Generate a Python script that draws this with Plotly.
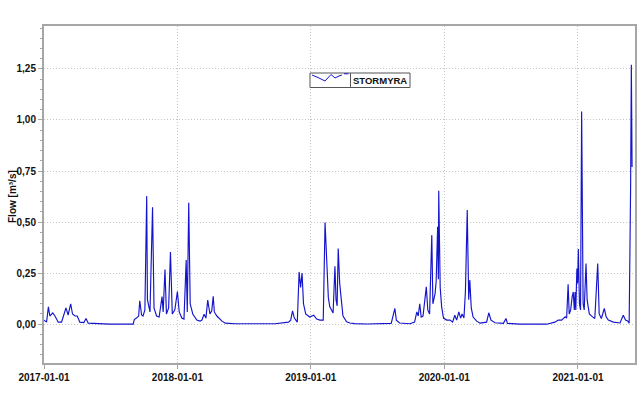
import plotly.graph_objects as go

dates = [
    "2017-01-01", "2017-01-08", "2017-01-13", "2017-01-17", "2017-01-25", "2017-01-31",
    "2017-02-09", "2017-02-18", "2017-02-25", "2017-03-02", "2017-03-08", "2017-03-15",
    "2017-03-20", "2017-03-27", "2017-04-02", "2017-04-09", "2017-04-20", "2017-04-26",
    "2017-05-02", "2017-05-16", "2017-06-30", "2017-09-02", "2017-09-05", "2017-09-11",
    "2017-09-17", "2017-09-20", "2017-09-25", "2017-09-29", "2017-10-04", "2017-10-09",
    "2017-10-11", "2017-10-18", "2017-10-25", "2017-10-29", "2017-11-05", "2017-11-12",
    "2017-11-20", "2017-11-23", "2017-11-28", "2017-12-02", "2017-12-08", "2017-12-13",
    "2017-12-18", "2017-12-25",
    "2018-01-01", "2018-01-06", "2018-01-13", "2018-01-19", "2018-01-25", "2018-01-28",
    "2018-02-01", "2018-02-05", "2018-02-12", "2018-02-23", "2018-03-04", "2018-03-09",
    "2018-03-15", "2018-03-20", "2018-03-25", "2018-03-31", "2018-04-05", "2018-04-09",
    "2018-04-12", "2018-04-19", "2018-04-25", "2018-05-03", "2018-05-12", "2018-06-08",
    "2018-09-25", "2018-11-01", "2018-11-07", "2018-11-12", "2018-11-17", "2018-11-23",
    "2018-11-25", "2018-11-30", "2018-12-04", "2018-12-08", "2018-12-12", "2018-12-18",
    "2018-12-29",
    "2019-01-09", "2019-01-17", "2019-01-26", "2019-02-04", "2019-02-09", "2019-02-13",
    "2019-02-16", "2019-02-18", "2019-02-22", "2019-02-27", "2019-03-03", "2019-03-08",
    "2019-03-11", "2019-03-14", "2019-03-17", "2019-03-21", "2019-03-26", "2019-03-30",
    "2019-04-09", "2019-04-18", "2019-05-01", "2019-06-02", "2019-08-09", "2019-08-19",
    "2019-08-23", "2019-09-01", "2019-09-29", "2019-10-12", "2019-10-18", "2019-10-22",
    "2019-10-26", "2019-10-30", "2019-11-04", "2019-11-13", "2019-11-17", "2019-11-22",
    "2019-11-28", "2019-12-01", "2019-12-07", "2019-12-10", "2019-12-14", "2019-12-16",
    "2019-12-17", "2019-12-21", "2019-12-25", "2019-12-30",
    "2020-01-08", "2020-01-17", "2020-01-24", "2020-01-30", "2020-02-04", "2020-02-10",
    "2020-02-15", "2020-02-19", "2020-02-24", "2020-02-28", "2020-03-04", "2020-03-08",
    "2020-03-11", "2020-03-15", "2020-03-20", "2020-03-30", "2020-04-08", "2020-04-26",
    "2020-05-02", "2020-05-08", "2020-05-19", "2020-06-11", "2020-06-18", "2020-06-22",
    "2020-07-26", "2020-10-07", "2020-10-30", "2020-11-08", "2020-11-17", "2020-11-27",
    "2020-12-01", "2020-12-05", "2020-12-08", "2020-12-12", "2020-12-16", "2020-12-19",
    "2020-12-22", "2020-12-24", "2020-12-26", "2020-12-29", "2020-12-31",
    "2021-01-02", "2021-01-05", "2021-01-08", "2021-01-11", "2021-01-13", "2021-01-15",
    "2021-01-18", "2021-01-23", "2021-01-26", "2021-02-01", "2021-02-10", "2021-02-16",
    "2021-02-24", "2021-02-28", "2021-03-06", "2021-03-14", "2021-03-19", "2021-03-25",
    "2021-04-08", "2021-04-26", "2021-05-05", "2021-05-11", "2021-05-17", "2021-05-21",
    "2021-05-25", "2021-05-27", "2021-05-29",
]

flow = [
    0.020, 0.010, 0.085, 0.040, 0.055, 0.040,
    0.010, 0.010, 0.050, 0.080, 0.045, 0.100,
    0.050, 0.040, 0.040, 0.010, 0.008, 0.028,
    0.005, 0.003, 0.000, 0.000, 0.023, 0.030,
    0.040, 0.115, 0.045, 0.040, 0.070, 0.627,
    0.120, 0.060, 0.572, 0.080, 0.040, 0.035,
    0.135, 0.060, 0.268, 0.050, 0.080, 0.353,
    0.050, 0.070,
    0.160, 0.060, 0.030, 0.025, 0.314, 0.060,
    0.595, 0.100, 0.050, 0.020, 0.015, 0.020,
    0.049, 0.030, 0.118, 0.050, 0.065, 0.137,
    0.060, 0.040, 0.030, 0.015, 0.005, 0.002,
    0.002, 0.010, 0.020, 0.065, 0.030, 0.012,
    0.010, 0.256, 0.180, 0.250, 0.100, 0.050,
    0.035,
    0.044, 0.025, 0.020, 0.020, 0.498, 0.310,
    0.220, 0.130, 0.085, 0.070, 0.055, 0.283,
    0.120, 0.090, 0.371, 0.200, 0.085, 0.040,
    0.012, 0.006, 0.003, 0.001, 0.004, 0.077,
    0.020, 0.006, 0.002, 0.010, 0.060, 0.040,
    0.100, 0.035, 0.040, 0.183, 0.070, 0.050,
    0.436, 0.100, 0.150, 0.210, 0.477, 0.220,
    0.653, 0.180, 0.085, 0.030,
    0.020, 0.020, 0.010, 0.044, 0.020, 0.060,
    0.030, 0.050, 0.030, 0.158, 0.559, 0.120,
    0.216, 0.080, 0.035, 0.015, 0.005, 0.010,
    0.056, 0.020, 0.007, 0.004, 0.028, 0.004,
    0.000, 0.000, 0.010, 0.020, 0.020, 0.036,
    0.030, 0.196, 0.050, 0.070, 0.134, 0.158,
    0.070, 0.158, 0.070, 0.273, 0.200,
    0.368, 0.100, 0.070, 1.041, 0.720, 0.100,
    0.070, 0.297, 0.120, 0.050, 0.036, 0.028,
    0.297, 0.050, 0.028, 0.077, 0.036, 0.020,
    0.010, 0.006, 0.044, 0.020, 0.016, 0.005,
    0.670, 1.270, 0.770,
]

series_name = "STORMYRA"
y_title = "Flow [m³/s]"
x_start, x_end = "2017-01-01", "2021-06-06"
y_min, y_max = -0.19, 1.46

font_family = "Liberation Sans, Arial, sans-serif"
axis_grey = "#a6a6a6"
grid_grey = "#c4c4c4"
line_blue = "#1414cc"

W, H = 639, 396
ML, MR, MT, MB = 44, 4, 26, 33
PW, PH = W - ML - MR, H - MT - MB


def px(xp):
    return (xp - ML) / PW


def py(yp):
    return (H - MB - yp) / PH


fig = go.Figure()
fig.add_trace(go.Scatter(
    x=dates, y=flow, mode="lines", name=series_name,
    line=dict(color=line_blue, width=1.15), showlegend=False,
))

# Legend box drawn by hand: icon cell with a wavy line, then the name cell
leg_x0, leg_xd, leg_x1 = px(310), px(350.5), px(410)
leg_y0, leg_y1 = py(87.5), py(73)
shapes = [
    dict(type="rect", xref="paper", yref="paper", x0=leg_x0, x1=leg_x1, y0=leg_y0, y1=leg_y1,
         line=dict(color="#555555", width=1), fillcolor="white", layer="above"),
    dict(type="line", xref="paper", yref="paper", x0=leg_xd, x1=leg_xd, y0=leg_y0, y1=leg_y1,
         line=dict(color="#555555", width=1), layer="above"),
]
wave = [(312, 75), (318, 77.5), (325, 81), (331, 74.5), (335, 78), (339, 76), (342, 75)]
path = "M " + " L ".join(f"{px(a):.5f},{py(b):.5f}" for a, b in wave)
shapes.append(dict(type="path", xref="paper", yref="paper", path=path,
                   line=dict(color=line_blue, width=1), layer="above"))
shapes.append(dict(type="line", xref="paper", yref="paper", x0=px(344), x1=px(348.5),
                   y0=py(73.8), y1=py(73.8), line=dict(color=line_blue, width=1), layer="above"))

annotations = [
    dict(xref="paper", yref="paper", x=(leg_xd + leg_x1) / 2, y=(leg_y0 + leg_y1) / 2,
         text=series_name, showarrow=False, xanchor="center", yanchor="middle",
         font=dict(family=font_family, size=9.5, color="#111111", weight="bold")),
    dict(xref="paper", yref="paper", x=px(12), y=py(197), text=y_title, textangle=-90,
         showarrow=False, xanchor="center", yanchor="middle",
         font=dict(family=font_family, size=10, color="#111111", weight="bold")),
]

fig.update_layout(
    width=W, height=H,
    margin=dict(l=ML, r=MR, t=MT, b=MB),
    paper_bgcolor="white", plot_bgcolor="white",
    separators=", ",
    font=dict(family=font_family, size=10, color="#111111"),
    showlegend=False,
    shapes=shapes,
    annotations=annotations,
    xaxis=dict(
        type="date", range=[x_start, x_end],
        tick0="2017-01-01", dtick="M12", tickformat="%Y-%m-%d",
        ticks="outside", ticklen=4, tickcolor=axis_grey,
        showline=True, linecolor=axis_grey, linewidth=2, mirror=True,
        showgrid=True, gridcolor=grid_grey, griddash="1px,2px", gridwidth=1,
        tickfont=dict(family=font_family, size=10, color="#111111", weight="bold"),
        zeroline=False, automargin=False,
    ),
    yaxis=dict(
        range=[y_min, y_max],
        tickvals=[0, 0.25, 0.5, 0.75, 1.0, 1.25], tickformat=".2f",
        ticks="outside", ticklen=4, tickcolor=axis_grey,
        minor=dict(dtick=0.05, tick0=0, ticks="outside", ticklen=2, tickcolor=axis_grey, showgrid=False),
        showline=True, linecolor=axis_grey, linewidth=2, mirror=True,
        showgrid=True, gridcolor=grid_grey, griddash="1px,2px", gridwidth=1,
        tickfont=dict(family=font_family, size=10, color="#111111", weight="bold"),
        zeroline=False, automargin=False,
    ),
)

fig.write_html("out.html", config={"displayModeBar": False},
               post_script="document.body.style.margin='0';")
